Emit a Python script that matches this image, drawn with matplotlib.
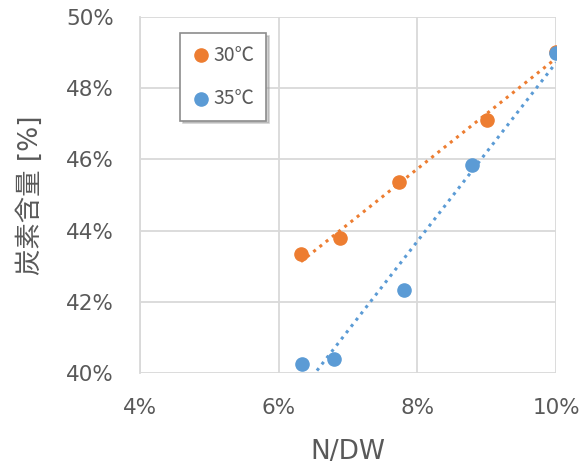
import numpy as np
import matplotlib.pyplot as plt
from matplotlib.ticker import FuncFormatter

plt.rcParams['font.family'] = ['DejaVu Sans', 'Noto Sans CJK JP']

# N/DW [%] and carbon content [%]
x30 = [6.32, 6.88, 7.74, 9.01, 10.0]
y30 = [43.33, 43.80, 45.36, 47.10, 49.0]
x35 = [6.34, 6.80, 7.80, 8.78, 10.0]
y35 = [40.26, 40.40, 42.34, 45.83, 48.98]
labels = ['30℃', '35℃']

orange = '#ED7D31'
blue = '#5B9BD5'
gray = '#595959'

fig = plt.figure(figsize=(5.86, 4.67), dpi=100)
ax = fig.add_axes([0.239, 0.201, 0.71, 0.763])

# trend lines (linear fit)
for xs, ys, c in [(x30, y30, orange), (x35, y35, blue)]:
    k, b = np.polyfit(xs, ys, 1)
    xx = np.array([min(xs), max(xs)])
    ax.plot(xx, k * xx + b, color=c, linestyle=(0, (1, 1.6)), linewidth=2.2, zorder=2)

ax.scatter(x30, y30, s=90, color=orange, label=labels[0], zorder=3)
ax.scatter(x35, y35, s=90, color=blue, label=labels[1], zorder=4)

ax.set_xlim(4, 10)
ax.set_ylim(40, 50)
ax.set_xticks([4, 6, 8, 10])
ax.set_yticks([40, 42, 44, 46, 48, 50])
pct = FuncFormatter(lambda v, p: '%d%%' % v)
ax.xaxis.set_major_formatter(pct)
ax.yaxis.set_major_formatter(pct)
ax.tick_params(length=0, labelsize=15.5, labelcolor=gray)
ax.tick_params(axis='x', pad=18)
ax.tick_params(axis='y', pad=19)
ax.grid(True, color='#D9D9D9', linewidth=1.3)
ax.set_axisbelow(True)
for s in ['top', 'right', 'bottom']:
    ax.spines[s].set_visible(False)
ax.spines['left'].set_color('#D9D9D9')
ax.spines['left'].set_linewidth(1.3)

ax.set_xlabel('N/DW', fontsize=19, color=gray, va='center')
ax.xaxis.set_label_coords(0.5, -0.222)
ax.set_ylabel('炭素含量 [%]', fontsize=19, color=gray, va='center')
ax.yaxis.set_label_coords(-0.264, 0.5)

leg = ax.legend(loc='upper left', bbox_to_anchor=(0.096, 0.955), borderaxespad=0,
                fancybox=False, shadow={'color': '#999999', 'alpha': 0.45},
                edgecolor='#8C8C8C', labelspacing=1.15, handletextpad=0.1,
                borderpad=0.6, prop={'family': ['Noto Sans CJK JP'], 'size': 14},
                scatterpoints=1, markerscale=1.0, handlelength=1.0, framealpha=1)
leg.get_frame().set_linewidth(1.2)
for t in leg.get_texts():
    t.set_color(gray)

fig.savefig('out.png', dpi=100)
